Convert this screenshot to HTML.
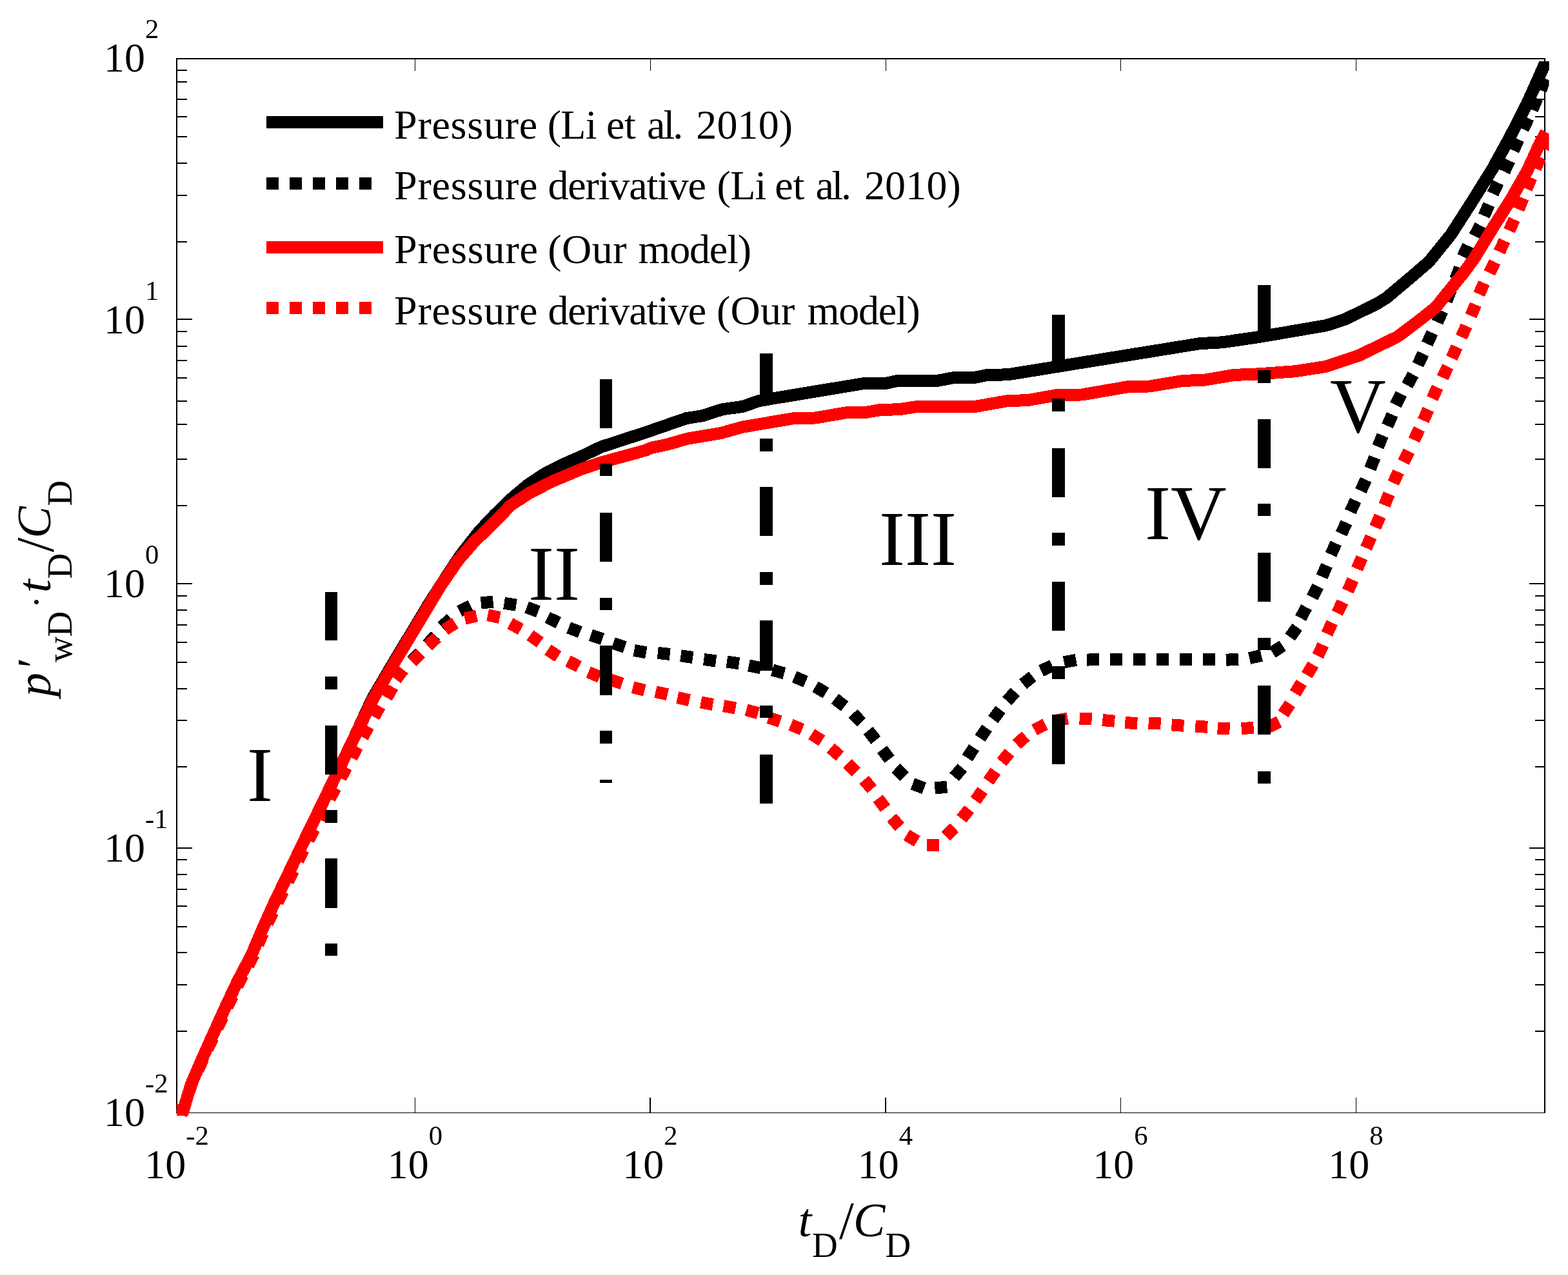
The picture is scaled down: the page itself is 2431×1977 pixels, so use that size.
<!DOCTYPE html>
<html><head><meta charset="utf-8"><title>Pressure and derivative curves</title>
<style>html,body{margin:0;padding:0;background:#fff;overflow:hidden}svg{display:block}</style>
</head><body>
<svg xmlns="http://www.w3.org/2000/svg" width="2431" height="1977" viewBox="0 0 2431 1977">
<rect width="2431" height="1977" fill="#fff"/>
<g fill="#000"><rect x="273" y="90" width="2123" height="2"/><rect x="273" y="1725" width="2123" height="1"/><rect x="273" y="90" width="2" height="1636"/><rect x="2394" y="90" width="2" height="1636"/><rect x="275" y="494" width="23" height="2"/><rect x="2371" y="494" width="23" height="2"/><rect x="275" y="904" width="23" height="2"/><rect x="2371" y="904" width="23" height="2"/><rect x="275" y="1314" width="23" height="2"/><rect x="2371" y="1314" width="23" height="2"/><rect x="275" y="108" width="15" height="2"/><rect x="2380" y="108" width="14" height="2"/><rect x="275" y="126" width="15" height="2"/><rect x="2380" y="126" width="14" height="2"/><rect x="275" y="153" width="15" height="2"/><rect x="2380" y="153" width="14" height="2"/><rect x="275" y="180" width="15" height="2"/><rect x="2380" y="180" width="14" height="2"/><rect x="275" y="211" width="15" height="2"/><rect x="2380" y="211" width="14" height="2"/><rect x="275" y="252" width="15" height="2"/><rect x="2380" y="252" width="14" height="2"/><rect x="275" y="302" width="15" height="2"/><rect x="2380" y="302" width="14" height="2"/><rect x="275" y="374" width="15" height="2"/><rect x="2380" y="374" width="14" height="2"/><rect x="275" y="513" width="15" height="2"/><rect x="2380" y="513" width="14" height="2"/><rect x="275" y="536" width="15" height="2"/><rect x="2380" y="536" width="14" height="2"/><rect x="275" y="558" width="15" height="2"/><rect x="2380" y="558" width="14" height="2"/><rect x="275" y="585" width="15" height="2"/><rect x="2380" y="585" width="14" height="2"/><rect x="275" y="621" width="15" height="2"/><rect x="2380" y="621" width="14" height="2"/><rect x="275" y="657" width="15" height="2"/><rect x="2380" y="657" width="14" height="2"/><rect x="275" y="711" width="15" height="2"/><rect x="2380" y="711" width="14" height="2"/><rect x="275" y="783" width="15" height="2"/><rect x="2380" y="783" width="14" height="2"/><rect x="275" y="923" width="15" height="2"/><rect x="2380" y="923" width="14" height="2"/><rect x="275" y="945" width="15" height="2"/><rect x="2380" y="945" width="14" height="2"/><rect x="275" y="968" width="15" height="2"/><rect x="2380" y="968" width="14" height="2"/><rect x="275" y="995" width="15" height="2"/><rect x="2380" y="995" width="14" height="2"/><rect x="275" y="1026" width="15" height="2"/><rect x="2380" y="1026" width="14" height="2"/><rect x="275" y="1067" width="15" height="2"/><rect x="2380" y="1067" width="14" height="2"/><rect x="275" y="1116" width="15" height="2"/><rect x="2380" y="1116" width="14" height="2"/><rect x="275" y="1188" width="15" height="2"/><rect x="2380" y="1188" width="14" height="2"/><rect x="275" y="1332" width="15" height="2"/><rect x="2380" y="1332" width="14" height="2"/><rect x="275" y="1355" width="15" height="2"/><rect x="2380" y="1355" width="14" height="2"/><rect x="275" y="1378" width="15" height="2"/><rect x="2380" y="1378" width="14" height="2"/><rect x="275" y="1404" width="15" height="2"/><rect x="2380" y="1404" width="14" height="2"/><rect x="275" y="1436" width="15" height="2"/><rect x="2380" y="1436" width="14" height="2"/><rect x="275" y="1476" width="15" height="2"/><rect x="2380" y="1476" width="14" height="2"/><rect x="275" y="1526" width="15" height="2"/><rect x="2380" y="1526" width="14" height="2"/><rect x="275" y="1598" width="15" height="2"/><rect x="2380" y="1598" width="14" height="2"/><rect x="643" y="92" width="1" height="18"/><rect x="643" y="1702" width="1" height="23"/><rect x="1008" y="92" width="1" height="18"/><rect x="1007" y="1702" width="2" height="23"/><rect x="1373" y="92" width="1" height="18"/><rect x="1372" y="1702" width="2" height="23"/><rect x="1737" y="92" width="1" height="18"/><rect x="1737" y="1702" width="1" height="23"/><rect x="2102" y="92" width="1" height="18"/><rect x="2102" y="1702" width="1" height="23"/></g>
<defs><clipPath id="pc"><rect x="0" y="95" width="2401.5" height="1882"/></clipPath></defs>
<g clip-path="url(#pc)">
<g fill="none" stroke-linejoin="round" shape-rendering="crispEdges" stroke-width="19.0">
<path d="M281.0,1728.0 L284.0,1722.0 L296.0,1682.4 L313.3,1642.1 L331.4,1601.8 L349.6,1561.5 L368.7,1521.1 L389.9,1480.8 L407.0,1440.5 L425.2,1400.2 L473.4,1300.0 L501.0,1243.3 L548.4,1145.3 L577.2,1083.5 L607.2,1032.3 L635.7,985.0 L662.7,940.0 L662.8,939.6 L692.6,893.3 L714.8,860.0 L742.5,824.5 L766.7,798.7 L795.6,770.9 L818.4,751.8 L845.6,733.9 L876.5,718.5 L904.5,706.2 L931.9,693.0 L1001.0,670.5 L1064.2,648.6 L1089.0,644.7 L1119.8,634.8 L1150.8,630.5 L1177.6,621.4 L1198.2,617.9 L1340.4,594.4 L1373.3,594.4 L1391.9,590.3 L1453.0,590.4 L1479.8,585.4 L1510.7,585.4 L1531.3,581.3 L1562.2,580.9 L1860.0,532.7 L1895.0,530.8 L1951.2,522.6 L2056.1,504.6 L2084.2,495.6 L2134.8,471.0 L2150.0,461.5 L2188.0,429.5 L2215.3,406.0 L2249.3,364.0 L2281.8,313.4 L2313.4,262.7 L2341.3,212.0 L2367.2,161.4 L2390.0,110.7 L2398.0,92.0" stroke="#000"/>
</g>
<g fill="#000" shape-rendering="crispEdges"><rect x="574.8" y="1093.9" width="19.0" height="19.0" transform="rotate(119.0 584.3 1103.4)"/><rect x="557.3" y="1125.3" width="19.0" height="19.0" transform="rotate(119.0 566.8 1134.8)"/><rect x="540.1" y="1157.0" width="19.0" height="19.0" transform="rotate(118.1 549.6 1166.5)"/><rect x="523.2" y="1188.7" width="19.0" height="19.0" transform="rotate(118.1 532.7 1198.2)"/><rect x="506.2" y="1220.5" width="19.0" height="19.0" transform="rotate(118.1 515.7 1230.0)"/><rect x="489.6" y="1252.4" width="19.0" height="19.0" transform="rotate(117.1 499.1 1261.9)"/><rect x="473.2" y="1284.5" width="19.0" height="19.0" transform="rotate(117.1 482.7 1294.0)"/><rect x="457.0" y="1316.7" width="19.0" height="19.0" transform="rotate(116.4 466.5 1326.2)"/><rect x="441.0" y="1348.9" width="19.0" height="19.0" transform="rotate(116.4 450.5 1358.4)"/><rect x="425.0" y="1381.1" width="19.0" height="19.0" transform="rotate(116.4 434.5 1390.6)"/><rect x="409.4" y="1413.6" width="19.0" height="19.0" transform="rotate(115.4 418.9 1423.1)"/><rect x="394.4" y="1446.3" width="19.0" height="19.0" transform="rotate(113.3 403.9 1455.8)"/><rect x="379.6" y="1479.1" width="19.0" height="19.0" transform="rotate(118.1 389.1 1488.6)"/><rect x="362.7" y="1510.9" width="19.0" height="19.0" transform="rotate(118.1 372.2 1520.4)"/><rect x="347.0" y="1543.3" width="19.0" height="19.0" transform="rotate(115.6 356.5 1552.8)"/><rect x="331.7" y="1575.8" width="19.0" height="19.0" transform="rotate(115.1 341.2 1585.3)"/><rect x="316.4" y="1608.5" width="19.0" height="19.0" transform="rotate(115.0 325.9 1618.0)"/><rect x="301.4" y="1641.1" width="19.0" height="19.0" transform="rotate(114.0 310.9 1650.6)"/><rect x="286.8" y="1674.1" width="19.0" height="19.0" transform="rotate(107.7 296.3 1683.6)"/><rect x="275.9" y="1708.4" width="19.0" height="19.0" transform="rotate(107.7 285.4 1717.9)"/></g>
<g fill="#000" shape-rendering="crispEdges"><rect x="635.0" y="1009.0" width="19.0" height="19.0" transform="rotate(-47.1 644.5 1018.5)"/><rect x="659.2" y="983.0" width="19.0" height="19.0" transform="rotate(-48.1 668.7 992.5)"/><rect x="682.5" y="956.0" width="19.0" height="19.0" transform="rotate(-43.1 692.0 965.5)"/><rect x="711.5" y="934.0" width="19.0" height="19.0" transform="rotate(-26.5 721.0 943.5)"/><rect x="745.7" y="924.5" width="19.0" height="19.0" transform="rotate(-5.5 755.2 934.0)"/><rect x="781.5" y="927.2" width="19.0" height="19.0" transform="rotate(8.9 791.0 936.7)"/><rect x="816.0" y="935.5" width="19.0" height="19.0" transform="rotate(20.5 825.5 945.0)"/><rect x="847.8" y="952.0" width="19.0" height="19.0" transform="rotate(26.0 857.3 961.5)"/><rect x="881.0" y="967.2" width="19.0" height="19.0" transform="rotate(21.2 890.5 976.7)"/><rect x="915.5" y="978.3" width="19.0" height="19.0" transform="rotate(18.9 925.0 987.8)"/><rect x="950.1" y="990.8" width="19.0" height="19.0" transform="rotate(18.4 959.6 1000.3)"/><rect x="983.0" y="1000.7" width="19.0" height="19.0" transform="rotate(10.7 992.5 1010.2)"/><rect x="1019.7" y="1003.9" width="19.0" height="19.0" transform="rotate(6.2 1029.2 1013.4)"/><rect x="1055.3" y="1008.6" width="19.0" height="19.0" transform="rotate(8.2 1064.8 1018.1)"/><rect x="1091.1" y="1014.2" width="19.0" height="19.0" transform="rotate(7.4 1100.6 1023.7)"/><rect x="1126.9" y="1017.9" width="19.0" height="19.0" transform="rotate(8.3 1136.4 1027.4)"/><rect x="1160.7" y="1024.3" width="19.0" height="19.0" transform="rotate(11.3 1170.2 1033.8)"/><rect x="1197.2" y="1032.0" width="19.0" height="19.0" transform="rotate(15.4 1206.7 1041.5)"/><rect x="1230.9" y="1043.7" width="19.0" height="19.0" transform="rotate(23.2 1240.4 1053.2)"/><rect x="1262.8" y="1060.1" width="19.0" height="19.0" transform="rotate(30.4 1272.3 1069.6)"/><rect x="1292.5" y="1079.8" width="19.0" height="19.0" transform="rotate(37.7 1302.0 1089.3)"/><rect x="1319.5" y="1103.9" width="19.0" height="19.0" transform="rotate(45.6 1329.0 1113.4)"/><rect x="1342.4" y="1130.8" width="19.0" height="19.0" transform="rotate(51.7 1351.9 1140.3)"/><rect x="1363.9" y="1160.1" width="19.0" height="19.0" transform="rotate(52.7 1373.4 1169.6)"/><rect x="1386.2" y="1188.2" width="19.0" height="19.0" transform="rotate(44.3 1395.7 1197.7)"/><rect x="1414.3" y="1209.3" width="19.0" height="19.0" transform="rotate(20.3 1423.8 1218.8)"/><rect x="1449.3" y="1211.6" width="19.0" height="19.0" transform="rotate(-5.0 1458.8 1221.1)"/><rect x="1476.2" y="1188.2" width="19.0" height="19.0" transform="rotate(-49.4 1485.7 1197.7)"/><rect x="1495.4" y="1157.8" width="19.0" height="19.0" transform="rotate(-57.3 1504.9 1167.3)"/><rect x="1515.3" y="1127.3" width="19.0" height="19.0" transform="rotate(-55.7 1524.8 1136.8)"/><rect x="1535.9" y="1098.5" width="19.0" height="19.0" transform="rotate(-53.0 1545.4 1108.0)"/><rect x="1558.1" y="1070.4" width="19.0" height="19.0" transform="rotate(-47.9 1567.6 1079.9)"/><rect x="1583.9" y="1045.3" width="19.0" height="19.0" transform="rotate(-38.5 1593.4 1054.8)"/><rect x="1613.2" y="1026.6" width="19.0" height="19.0" transform="rotate(-24.4 1622.7 1036.1)"/><rect x="1649.5" y="1015.6" width="19.0" height="19.0" transform="rotate(-10.5 1659.0 1025.1)"/><rect x="1685.1" y="1013.3" width="19.0" height="19.0" transform="rotate(-1.8 1694.6 1022.8)"/><rect x="1720.9" y="1013.3" width="19.0" height="19.0" transform="rotate(0.0 1730.4 1022.8)"/><rect x="1756.7" y="1013.3" width="19.0" height="19.0" transform="rotate(0.0 1766.2 1022.8)"/><rect x="1792.8" y="1013.3" width="19.0" height="19.0" transform="rotate(0.0 1802.3 1022.8)"/><rect x="1828.6" y="1013.3" width="19.0" height="19.0" transform="rotate(0.0 1838.1 1022.8)"/><rect x="1864.9" y="1013.3" width="19.0" height="19.0" transform="rotate(-0.1 1874.4 1022.8)"/><rect x="1901.0" y="1013.2" width="19.0" height="19.0" transform="rotate(-3.4 1910.5 1022.7)"/><rect x="1936.9" y="1009.0" width="19.0" height="19.0" transform="rotate(-13.0 1946.4 1018.5)"/><rect x="1971.1" y="997.0" width="19.0" height="19.0" transform="rotate(-32.9 1980.6 1006.5)"/><rect x="1996.1" y="970.7" width="19.0" height="19.0" transform="rotate(-54.4 2005.6 980.2)"/><rect x="2011.5" y="940.5" width="19.0" height="19.0" transform="rotate(-61.9 2021.0 950.0)"/><rect x="2029.5" y="908.2" width="19.0" height="19.0" transform="rotate(-63.5 2039.0 917.7)"/><rect x="2043.7" y="876.0" width="19.0" height="19.0" transform="rotate(-66.9 2053.2 885.5)"/><rect x="2057.8" y="841.7" width="19.0" height="19.0" transform="rotate(-65.5 2067.3 851.2)"/><rect x="2074.0" y="809.5" width="19.0" height="19.0" transform="rotate(-65.5 2083.5 819.0)"/><rect x="2088.1" y="775.2" width="19.0" height="19.0" transform="rotate(-65.6 2097.6 784.7)"/><rect x="2104.2" y="742.9" width="19.0" height="19.0" transform="rotate(-65.6 2113.7 752.4)"/><rect x="2118.3" y="708.6" width="19.0" height="19.0" transform="rotate(-69.0 2127.8 718.1)"/><rect x="2130.5" y="674.4" width="19.0" height="19.0" transform="rotate(-67.9 2140.0 683.9)"/><rect x="2145.3" y="642.1" width="19.0" height="19.0" transform="rotate(-66.5 2154.8 651.6)"/><rect x="2158.6" y="609.9" width="19.0" height="19.0" transform="rotate(-63.3 2168.1 619.4)"/><rect x="2176.8" y="579.6" width="19.0" height="19.0" transform="rotate(-61.2 2186.3 589.1)"/><rect x="2192.9" y="547.4" width="19.0" height="19.0" transform="rotate(-64.9 2202.4 556.9)"/><rect x="2207.0" y="515.1" width="19.0" height="19.0" transform="rotate(-65.6 2216.5 524.6)"/><rect x="2222.8" y="481.5" width="19.0" height="19.0" transform="rotate(-66.1 2232.3 491.0)"/><rect x="2236.5" y="448.5" width="19.0" height="19.0" transform="rotate(-67.5 2246.0 458.0)"/><rect x="2250.5" y="414.5" width="19.0" height="19.0" transform="rotate(-69.2 2260.0 424.0)"/><rect x="2262.5" y="379.9" width="19.0" height="19.0" transform="rotate(-65.2 2272.0 389.4)"/><rect x="2281.1" y="348.2" width="19.0" height="19.0" transform="rotate(-62.8 2290.6 357.7)"/><rect x="2295.1" y="316.5" width="19.0" height="19.0" transform="rotate(-67.1 2304.6 326.0)"/><rect x="2309.0" y="282.3" width="19.0" height="19.0" transform="rotate(-65.2 2318.5 291.8)"/><rect x="2326.7" y="248.1" width="19.0" height="19.0" transform="rotate(-64.7 2336.2 257.6)"/><rect x="2340.7" y="215.2" width="19.0" height="19.0" transform="rotate(-66.1 2350.2 224.7)"/><rect x="2355.9" y="182.3" width="19.0" height="19.0" transform="rotate(-65.3 2365.4 191.8)"/><rect x="2369.8" y="151.9" width="19.0" height="19.0" transform="rotate(-66.4 2379.3 161.4)"/><rect x="2382.5" y="121.5" width="19.0" height="19.0" transform="rotate(-71.4 2392.0 131.0)"/><rect x="2390.5" y="90.5" width="19.0" height="19.0" transform="rotate(-75.5 2400.0 100.0)"/></g>
<g fill="none" stroke-linejoin="round" shape-rendering="crispEdges" stroke-width="19.0">
<path d="M281.0,1728.0 L284.0,1722.0 L296.0,1682.4 L313.3,1642.1 L331.4,1601.8 L349.6,1561.5 L368.7,1521.1 L389.9,1480.8 L407.0,1440.5 L425.2,1400.2 L473.4,1300.0 L501.0,1243.3 L548.4,1145.3 L578.5,1083.5 L608.5,1032.3 L637.0,985.0 L664.0,940.0 L682.6,909.0 L710.3,868.8 L734.3,841.0 L765.8,810.3 L792.0,783.3 L820.5,764.6 L857.0,746.0 L900.0,728.0 L929.0,718.0 L1000.0,698.5 L1010.6,694.2 L1035.3,689.0 L1066.3,680.1 L1117.8,671.5 L1150.8,662.2 L1231.1,648.6 L1264.1,648.0 L1313.6,639.5 L1344.5,639.1 L1365.1,635.4 L1394.0,634.8 L1420.0,630.8 L1512.7,630.3 L1562.2,621.5 L1593.1,620.7 L1640.5,612.2 L1677.6,612.0 L1751.8,599.2 L1782.7,599.0 L1834.3,590.4 L1866.9,589.3 L1913.7,581.4 L1951.2,579.9 L2007.4,575.8 L2056.1,568.3 L2108.5,550.5 L2140.0,535.0 L2166.0,522.5 L2189.0,505.5 L2211.5,488.0 L2227.0,475.5 L2240.0,459.0 L2253.0,443.0 L2270.0,422.0 L2286.0,400.0 L2316.6,349.8 L2341.7,310.6 L2368.0,264.5 L2387.0,223.0 L2397.0,205.0" stroke="#f00"/>
</g>
<g fill="#f00" shape-rendering="crispEdges"><rect x="574.8" y="1093.9" width="19.0" height="19.0" transform="rotate(119.0 584.3 1103.4)"/><rect x="557.3" y="1125.3" width="19.0" height="19.0" transform="rotate(119.0 566.8 1134.8)"/><rect x="540.1" y="1157.0" width="19.0" height="19.0" transform="rotate(118.1 549.6 1166.5)"/><rect x="523.2" y="1188.7" width="19.0" height="19.0" transform="rotate(118.1 532.7 1198.2)"/><rect x="506.2" y="1220.5" width="19.0" height="19.0" transform="rotate(118.1 515.7 1230.0)"/><rect x="489.6" y="1252.4" width="19.0" height="19.0" transform="rotate(117.1 499.1 1261.9)"/><rect x="473.2" y="1284.5" width="19.0" height="19.0" transform="rotate(117.1 482.7 1294.0)"/><rect x="457.0" y="1316.7" width="19.0" height="19.0" transform="rotate(116.4 466.5 1326.2)"/><rect x="441.0" y="1348.9" width="19.0" height="19.0" transform="rotate(116.4 450.5 1358.4)"/><rect x="425.0" y="1381.1" width="19.0" height="19.0" transform="rotate(116.4 434.5 1390.6)"/><rect x="409.4" y="1413.6" width="19.0" height="19.0" transform="rotate(115.4 418.9 1423.1)"/><rect x="394.4" y="1446.3" width="19.0" height="19.0" transform="rotate(113.3 403.9 1455.8)"/><rect x="379.6" y="1479.1" width="19.0" height="19.0" transform="rotate(118.1 389.1 1488.6)"/><rect x="362.7" y="1510.9" width="19.0" height="19.0" transform="rotate(118.1 372.2 1520.4)"/><rect x="347.0" y="1543.3" width="19.0" height="19.0" transform="rotate(115.6 356.5 1552.8)"/><rect x="331.7" y="1575.8" width="19.0" height="19.0" transform="rotate(115.1 341.2 1585.3)"/><rect x="316.4" y="1608.5" width="19.0" height="19.0" transform="rotate(115.0 325.9 1618.0)"/><rect x="301.4" y="1641.1" width="19.0" height="19.0" transform="rotate(114.0 310.9 1650.6)"/><rect x="286.8" y="1674.1" width="19.0" height="19.0" transform="rotate(107.7 296.3 1683.6)"/><rect x="275.9" y="1708.4" width="19.0" height="19.0" transform="rotate(107.7 285.4 1717.9)"/></g>
<g fill="#f00" shape-rendering="crispEdges"><rect x="594.7" y="1064.0" width="19.0" height="19.0" transform="rotate(-61.0 604.2 1073.5)"/><rect x="610.0" y="1036.4" width="19.0" height="19.0" transform="rotate(-52.4 619.5 1045.9)"/><rect x="636.2" y="1010.1" width="19.0" height="19.0" transform="rotate(-45.1 645.7 1019.6)"/><rect x="660.8" y="985.5" width="19.0" height="19.0" transform="rotate(-42.9 670.3 995.0)"/><rect x="688.3" y="961.7" width="19.0" height="19.0" transform="rotate(-32.6 697.8 971.2)"/><rect x="720.3" y="947.5" width="19.0" height="19.0" transform="rotate(-13.0 729.8 957.0)"/><rect x="756.0" y="946.1" width="19.0" height="19.0" transform="rotate(11.6 765.5 955.6)"/><rect x="789.7" y="961.7" width="19.0" height="19.0" transform="rotate(28.6 799.2 971.2)"/><rect x="820.1" y="981.1" width="19.0" height="19.0" transform="rotate(35.5 829.6 990.6)"/><rect x="847.8" y="1003.2" width="19.0" height="19.0" transform="rotate(33.1 857.3 1012.7)"/><rect x="879.5" y="1019.8" width="19.0" height="19.0" transform="rotate(27.5 889.0 1029.3)"/><rect x="911.5" y="1036.4" width="19.0" height="19.0" transform="rotate(22.6 921.0 1045.9)"/><rect x="946.0" y="1047.5" width="19.0" height="19.0" transform="rotate(17.8 955.5 1057.0)"/><rect x="980.7" y="1058.6" width="19.0" height="19.0" transform="rotate(14.2 990.2 1068.1)"/><rect x="1016.2" y="1065.3" width="19.0" height="19.0" transform="rotate(12.7 1025.7 1074.8)"/><rect x="1050.1" y="1074.2" width="19.0" height="19.0" transform="rotate(12.8 1059.6 1083.7)"/><rect x="1086.4" y="1081.2" width="19.0" height="19.0" transform="rotate(10.0 1095.9 1090.7)"/><rect x="1121.6" y="1086.8" width="19.0" height="19.0" transform="rotate(10.2 1131.1 1096.3)"/><rect x="1156.7" y="1093.8" width="19.0" height="19.0" transform="rotate(15.6 1166.2 1103.3)"/><rect x="1191.1" y="1106.2" width="19.0" height="19.0" transform="rotate(19.4 1200.6 1115.7)"/><rect x="1225.3" y="1117.9" width="19.0" height="19.0" transform="rotate(22.9 1234.8 1127.4)"/><rect x="1256.7" y="1133.9" width="19.0" height="19.0" transform="rotate(32.7 1266.2 1143.4)"/><rect x="1285.5" y="1156.6" width="19.0" height="19.0" transform="rotate(41.0 1295.0 1166.1)"/><rect x="1311.2" y="1181.2" width="19.0" height="19.0" transform="rotate(44.7 1320.7 1190.7)"/><rect x="1336.3" y="1206.9" width="19.0" height="19.0" transform="rotate(50.0 1345.8 1216.4)"/><rect x="1357.4" y="1236.2" width="19.0" height="19.0" transform="rotate(53.8 1366.9 1245.7)"/><rect x="1379.2" y="1265.5" width="19.0" height="19.0" transform="rotate(49.0 1388.7 1275.0)"/><rect x="1404.2" y="1290.1" width="19.0" height="19.0" transform="rotate(31.3 1413.7 1299.6)"/><rect x="1437.0" y="1300.6" width="19.0" height="19.0" transform="rotate(0.0 1446.5 1310.1)"/><rect x="1463.5" y="1280.7" width="19.0" height="19.0" transform="rotate(-43.7 1473.0 1290.2)"/><rect x="1487.2" y="1252.6" width="19.0" height="19.0" transform="rotate(-51.7 1496.7 1262.1)"/><rect x="1508.3" y="1224.0" width="19.0" height="19.0" transform="rotate(-54.8 1517.8 1233.5)"/><rect x="1528.4" y="1194.1" width="19.0" height="19.0" transform="rotate(-55.2 1537.9 1203.6)"/><rect x="1549.5" y="1164.8" width="19.0" height="19.0" transform="rotate(-50.9 1559.0 1174.3)"/><rect x="1573.8" y="1138.3" width="19.0" height="19.0" transform="rotate(-41.5 1583.3 1147.8)"/><rect x="1602.6" y="1117.9" width="19.0" height="19.0" transform="rotate(-27.1 1612.1 1127.4)"/><rect x="1636.5" y="1106.2" width="19.0" height="19.0" transform="rotate(-10.2 1646.0 1115.7)"/><rect x="1673.6" y="1105.1" width="19.0" height="19.0" transform="rotate(1.3 1683.1 1114.6)"/><rect x="1709.2" y="1107.9" width="19.0" height="19.0" transform="rotate(5.3 1718.7 1117.4)"/><rect x="1744.3" y="1111.6" width="19.0" height="19.0" transform="rotate(3.4 1753.8 1121.1)"/><rect x="1780.6" y="1112.1" width="19.0" height="19.0" transform="rotate(2.8 1790.1 1121.6)"/><rect x="1816.5" y="1115.1" width="19.0" height="19.0" transform="rotate(4.0 1826.0 1124.6)"/><rect x="1853.2" y="1117.2" width="19.0" height="19.0" transform="rotate(3.9 1862.7 1126.7)"/><rect x="1887.6" y="1120.0" width="19.0" height="19.0" transform="rotate(1.8 1897.1 1129.5)"/><rect x="1924.7" y="1119.5" width="19.0" height="19.0" transform="rotate(-4.5 1934.2 1129.0)"/><rect x="1965.1" y="1113.9" width="19.0" height="19.0" transform="rotate(-26.2 1974.6 1123.4)"/><rect x="1985.3" y="1089.7" width="19.0" height="19.0" transform="rotate(-55.9 1994.8 1099.2)"/><rect x="2003.4" y="1057.4" width="19.0" height="19.0" transform="rotate(-59.1 2012.9 1066.9)"/><rect x="2021.5" y="1029.2" width="19.0" height="19.0" transform="rotate(-59.6 2031.0 1038.7)"/><rect x="2037.7" y="999.0" width="19.0" height="19.0" transform="rotate(-64.8 2047.2 1008.5)"/><rect x="2051.8" y="964.7" width="19.0" height="19.0" transform="rotate(-65.6 2061.3 974.2)"/><rect x="2067.9" y="932.5" width="19.0" height="19.0" transform="rotate(-64.2 2077.4 942.0)"/><rect x="2084.0" y="898.2" width="19.0" height="19.0" transform="rotate(-66.2 2093.5 907.7)"/><rect x="2098.2" y="863.9" width="19.0" height="19.0" transform="rotate(-67.0 2107.7 873.4)"/><rect x="2112.3" y="831.6" width="19.0" height="19.0" transform="rotate(-66.4 2121.8 841.1)"/><rect x="2126.4" y="799.4" width="19.0" height="19.0" transform="rotate(-67.0 2135.9 808.9)"/><rect x="2140.5" y="765.1" width="19.0" height="19.0" transform="rotate(-67.7 2150.0 774.6)"/><rect x="2154.6" y="730.8" width="19.0" height="19.0" transform="rotate(-65.6 2164.1 740.3)"/><rect x="2170.7" y="698.6" width="19.0" height="19.0" transform="rotate(-64.1 2180.2 708.1)"/><rect x="2186.9" y="664.3" width="19.0" height="19.0" transform="rotate(-64.9 2196.4 673.8)"/><rect x="2201.0" y="634.0" width="19.0" height="19.0" transform="rotate(-66.4 2210.5 643.5)"/><rect x="2215.1" y="599.8" width="19.0" height="19.0" transform="rotate(-65.6 2224.6 609.3)"/><rect x="2231.2" y="567.5" width="19.0" height="19.0" transform="rotate(-64.5 2240.7 577.0)"/><rect x="2245.1" y="537.0" width="19.0" height="19.0" transform="rotate(-65.4 2254.6 546.5)"/><rect x="2260.1" y="504.5" width="19.0" height="19.0" transform="rotate(-65.8 2269.6 514.0)"/><rect x="2274.6" y="471.5" width="19.0" height="19.0" transform="rotate(-67.6 2284.1 481.0)"/><rect x="2287.5" y="438.0" width="19.0" height="19.0" transform="rotate(-66.2 2297.0 447.5)"/><rect x="2303.9" y="405.2" width="19.0" height="19.0" transform="rotate(-64.3 2313.4 414.7)"/><rect x="2319.1" y="372.3" width="19.0" height="19.0" transform="rotate(-65.2 2328.6 381.8)"/><rect x="2334.3" y="339.4" width="19.0" height="19.0" transform="rotate(-66.1 2343.8 348.9)"/><rect x="2348.3" y="306.4" width="19.0" height="19.0" transform="rotate(-67.7 2357.8 315.9)"/><rect x="2360.9" y="274.7" width="19.0" height="19.0" transform="rotate(-67.2 2370.4 284.2)"/><rect x="2374.9" y="243.1" width="19.0" height="19.0" transform="rotate(-66.8 2384.4 252.6)"/><rect x="2387.5" y="212.5" width="19.0" height="19.0" transform="rotate(-67.6 2397.0 222.0)"/></g>
<rect x="274" y="1712" width="15" height="17.5" fill="#f00" shape-rendering="crispEdges"/>
</g>
<g fill="#000"><rect x="504" y="918" width="19" height="75"/><rect x="504" y="1049" width="19" height="20"/><rect x="504" y="1125" width="19" height="76"/><rect x="504" y="1256" width="19" height="20"/><rect x="504" y="1331" width="19" height="77"/><rect x="504" y="1463" width="19" height="19"/><rect x="930" y="588" width="19" height="76"/><rect x="930" y="719" width="19" height="19"/><rect x="930" y="795" width="19" height="76"/><rect x="930" y="927" width="19" height="19"/><rect x="930" y="1001" width="19" height="77"/><rect x="930" y="1133" width="19" height="20"/><rect x="930" y="1209" width="19" height="5"/><rect x="1178" y="548" width="20" height="77"/><rect x="1178" y="680" width="20" height="20"/><rect x="1178" y="755" width="20" height="76"/><rect x="1178" y="887" width="20" height="20"/><rect x="1178" y="962" width="20" height="78"/><rect x="1178" y="1094" width="20" height="19"/><rect x="1178" y="1170" width="20" height="76"/><rect x="1631" y="488" width="20" height="76"/><rect x="1631" y="618" width="20" height="20"/><rect x="1631" y="695" width="20" height="76"/><rect x="1631" y="826" width="20" height="20"/><rect x="1631" y="902" width="20" height="76"/><rect x="1631" y="1033" width="20" height="20"/><rect x="1631" y="1108" width="20" height="77"/><rect x="1950" y="442" width="20" height="77"/><rect x="1950" y="574" width="20" height="20"/><rect x="1950" y="650" width="20" height="76"/><rect x="1950" y="781" width="20" height="19"/><rect x="1950" y="857" width="20" height="76"/><rect x="1950" y="989" width="20" height="19"/><rect x="1950" y="1063" width="20" height="76"/><rect x="1950" y="1196" width="20" height="19"/></g>
<g font-family="'Liberation Serif', 'Times New Roman', serif" fill="#000">
<text x="161" y="110.9" font-size="64">10</text><text x="225" y="59.0" font-size="42.67">2</text><text x="161" y="517.0" font-size="64">10</text><text x="225" y="465.0" font-size="42.67">1</text><text x="161" y="926.0" font-size="64">10</text><text x="225" y="873.7" font-size="42.67">0</text><text x="161" y="1336.0" font-size="64">10</text><text x="225" y="1283.7" font-size="42.67">-1</text><text x="161" y="1746.0" font-size="64">10</text><text x="225" y="1694.0" font-size="42.67">-2</text>
<text x="224.2" y="1826.8" font-size="64">10</text><text x="288.2" y="1774.8" font-size="42.67">-2</text><text x="600.8" y="1826.8" font-size="64">10</text><text x="664.8" y="1774.8" font-size="42.67">0</text><text x="965.3" y="1826.8" font-size="64">10</text><text x="1029.3" y="1774.8" font-size="42.67">2</text><text x="1329.8" y="1826.8" font-size="64">10</text><text x="1393.8" y="1774.8" font-size="42.67">4</text><text x="1694.3" y="1826.8" font-size="64">10</text><text x="1758.3" y="1774.8" font-size="42.67">6</text><text x="2059.3" y="1826.8" font-size="64">10</text><text x="2123.3" y="1774.8" font-size="42.67">8</text>
<rect x="413" y="180" width="181" height="19" fill="#000"/><rect x="413" y="275" width="19" height="19" fill="#000"/><rect x="449" y="275" width="19" height="19" fill="#000"/><rect x="485" y="275" width="19" height="19" fill="#000"/><rect x="521" y="275" width="19" height="19" fill="#000"/><rect x="557" y="275" width="19" height="19" fill="#000"/><rect x="413" y="374" width="181" height="19" fill="#f00"/><rect x="413" y="468" width="19" height="19" fill="#f00"/><rect x="449" y="468" width="19" height="19" fill="#f00"/><rect x="485" y="468" width="19" height="19" fill="#f00"/><rect x="521" y="468" width="19" height="19" fill="#f00"/><rect x="557" y="468" width="19" height="19" fill="#f00"/><text y="214.7" font-size="64"><tspan x="611.1" textLength="222.0" lengthAdjust="spacing">Pressure</tspan> <tspan x="848.7" textLength="76.8" lengthAdjust="spacing">(Li</tspan> <tspan x="939.9" textLength="45.8" lengthAdjust="spacing">et</tspan> <tspan x="1003.0" textLength="56.3" lengthAdjust="spacing">al.</tspan> <tspan x="1079.3" textLength="149.8" lengthAdjust="spacing">2010)</tspan></text><text y="308.8" font-size="64"><tspan x="611.1" textLength="222.4" lengthAdjust="spacing">Pressure</tspan> <tspan x="849.4" textLength="245.6" lengthAdjust="spacing">derivative</tspan> <tspan x="1111.5" textLength="76.9" lengthAdjust="spacing">(Li</tspan> <tspan x="1201.3" textLength="46.0" lengthAdjust="spacing">et</tspan> <tspan x="1264.5" textLength="55.6" lengthAdjust="spacing">al.</tspan> <tspan x="1339.9" textLength="150.0" lengthAdjust="spacing">2010)</tspan></text><text y="407.9" font-size="64"><tspan x="611.1" textLength="222.9" lengthAdjust="spacing">Pressure</tspan> <tspan x="849.2" textLength="122.3" lengthAdjust="spacing">(Our</tspan> <tspan x="989.5" textLength="175.6" lengthAdjust="spacing">model)</tspan></text><text y="502.9" font-size="64"><tspan x="611.1" textLength="222.4" lengthAdjust="spacing">Pressure</tspan> <tspan x="849.4" textLength="245.7" lengthAdjust="spacing">derivative</tspan> <tspan x="1111.1" textLength="121.3" lengthAdjust="spacing">(Our</tspan> <tspan x="1251.8" textLength="175.1" lengthAdjust="spacing">model)</tspan></text>
<text x="383" y="1242" font-size="120">I</text><text x="819" y="930" font-size="120">II</text><text x="1363" y="876" font-size="120">III</text><text x="1775" y="836" font-size="120">IV</text><text x="2062" y="670" font-size="120">V</text>
<text font-size="74"><tspan x="1237.8" y="1916.5" font-style="italic">t</tspan><tspan x="1259.1" y="1948.7" font-size="55">D</tspan><tspan x="1301" y="1919.5" font-size="82">/</tspan><tspan x="1322.9" y="1916.5" font-style="italic">C</tspan><tspan x="1372.4" y="1948.7" font-size="55">D</tspan></text><text transform="translate(78.4,1090) rotate(-90)" font-size="74"><tspan x="10.1" y="0" font-style="italic">p</tspan><tspan x="54.3" y="0">&#8242;</tspan><tspan x="63.3" y="32.1" font-size="55">w</tspan><tspan x="102.6" y="32.1" font-size="55">D</tspan><tspan x="146.5" y="-2" font-size="60">&#183;</tspan><tspan x="171.1" y="0" font-style="italic">t</tspan><tspan x="192.5" y="32.1" font-size="55">D</tspan><tspan x="233.8" y="3.8" font-size="82">/</tspan><tspan x="255.6" y="0" font-style="italic">C</tspan><tspan x="305.4" y="32.1" font-size="55">D</tspan></text>
</g></svg>
</body></html>
